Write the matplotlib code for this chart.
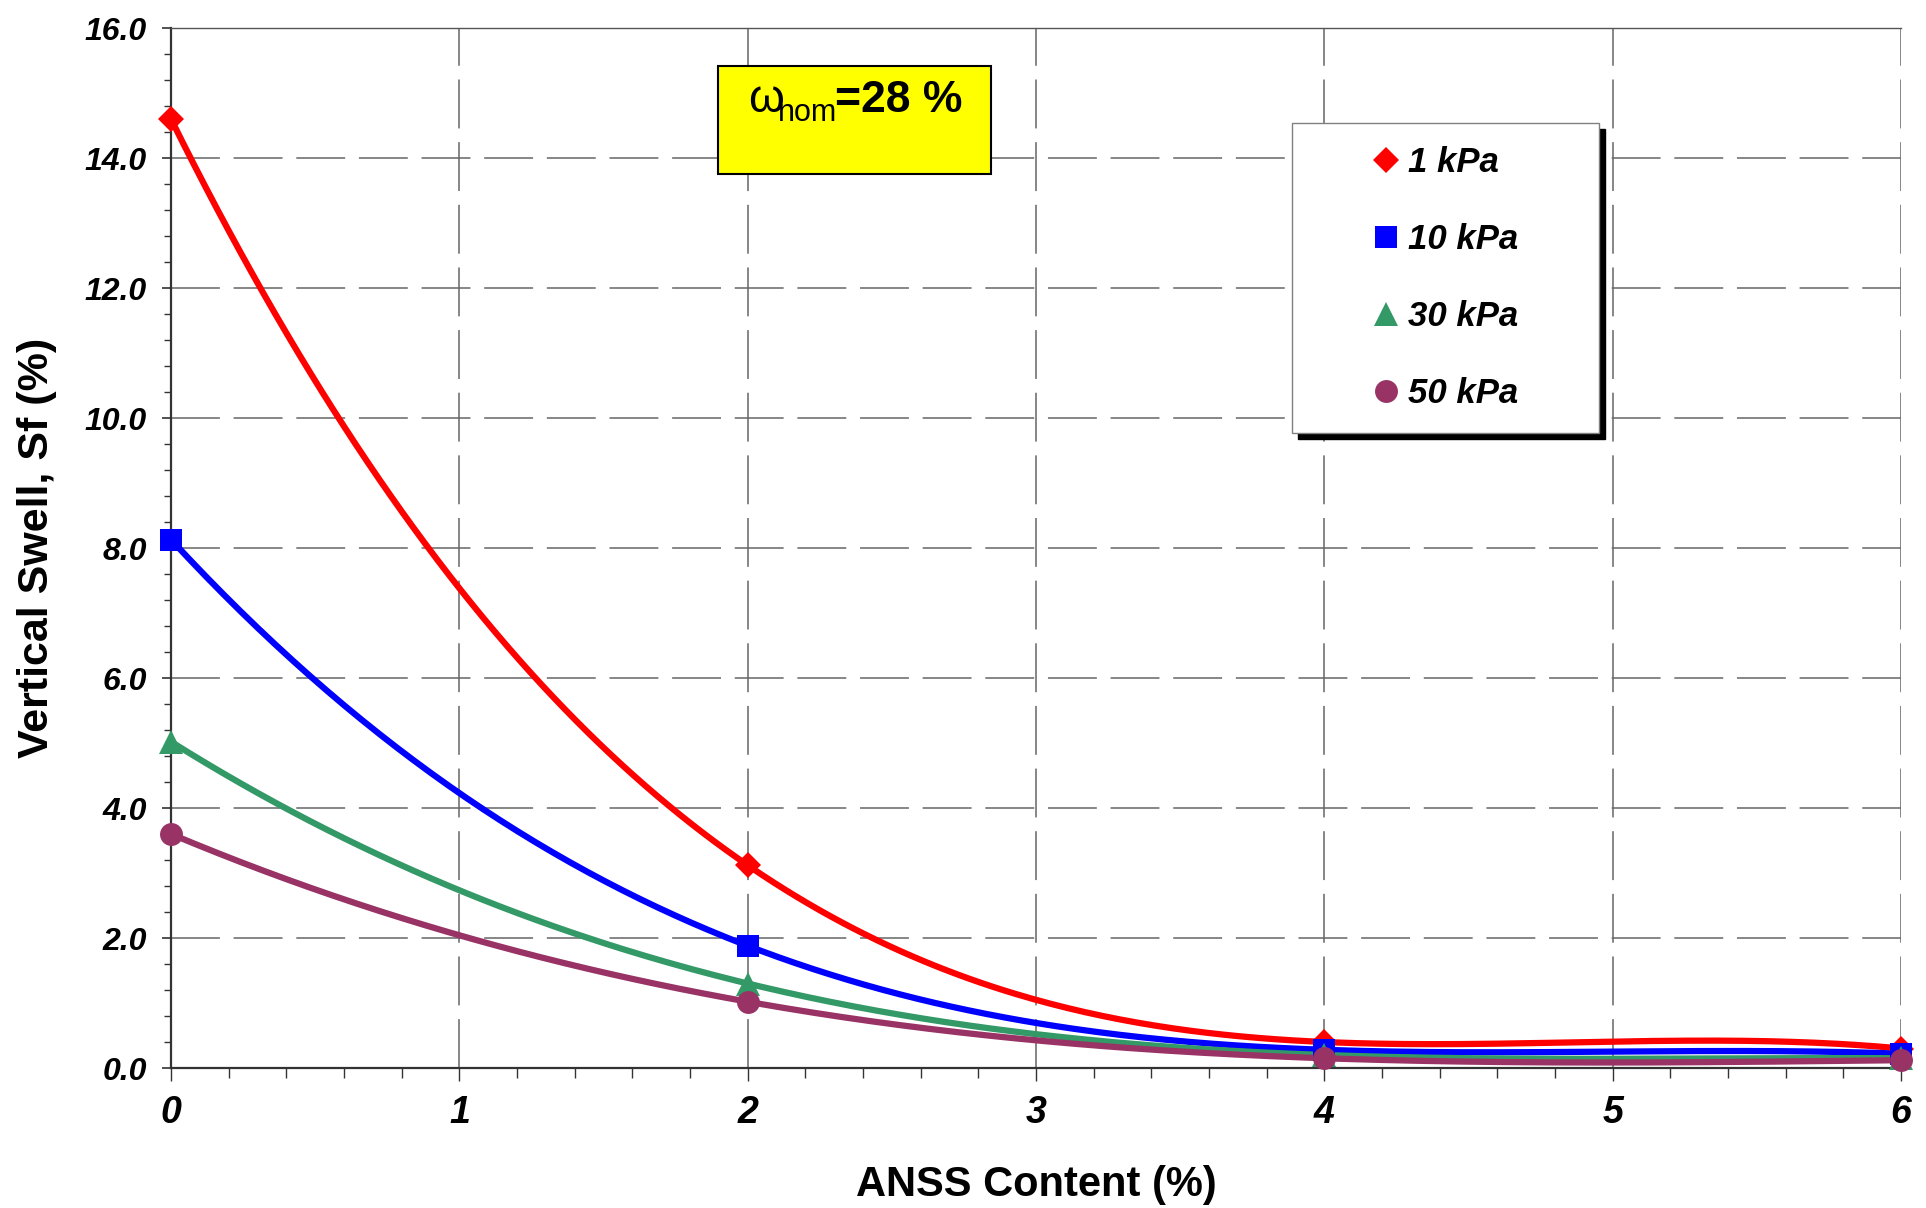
import numpy as np
import matplotlib
matplotlib.use("Agg")
import matplotlib.pyplot as plt
from matplotlib.lines import Line2D
from matplotlib.patches import Rectangle
from matplotlib.ticker import MultipleLocator, FormatStrFormatter

# ANSS content (%) and vertical swell (%) for each surcharge pressure
anss = [0, 2, 4, 6]
swell_1kpa = [14.6, 3.12, 0.40, 0.30]
swell_10kpa = [8.13, 1.88, 0.28, 0.22]
swell_30kpa = [5.02, 1.30, 0.20, 0.15]
swell_50kpa = [3.60, 1.02, 0.15, 0.12]
labels = ["1 kPa", "10 kPa", "30 kPa", "50 kPa"]

colors = ["#FF0000", "#0000FF", "#339966", "#993366"]
markers = ["D", "s", "^", "o"]
msizes = [13, 16, 17, 16.5]

FONT = ["Liberation Sans", "DejaVu Sans"]

fig = plt.figure(figsize=(19.26, 12.08), dpi=100)
ax = fig.add_axes([171 / 1926, 140 / 1208, 1730 / 1926, 1040 / 1208])

series = [swell_1kpa, swell_10kpa, swell_30kpa, swell_50kpa]
xs = np.linspace(0, 6, 300)
for vals, c, m, ms in zip(series, colors, markers, msizes):
    # 3rd order polynomial trendline through the points
    coef = np.polyfit(anss, vals, 3)
    ax.plot(xs, np.polyval(coef, xs), color=c, lw=4.5, zorder=3, clip_on=False,
            solid_capstyle="butt")
    ax.plot(anss, vals, linestyle="none", marker=m, ms=ms, color=c,
            markeredgewidth=0, zorder=4, clip_on=False)

ax.set_xlim(0, 6)
ax.set_ylim(0, 16)
ax.xaxis.set_major_locator(MultipleLocator(1))
ax.xaxis.set_minor_locator(MultipleLocator(0.2))
ax.yaxis.set_major_locator(MultipleLocator(2))
ax.yaxis.set_minor_locator(MultipleLocator(0.4))
ax.yaxis.set_major_formatter(FormatStrFormatter("%.1f"))
ax.xaxis.set_major_formatter(FormatStrFormatter("%d"))

ax.grid(True, which="major", color="#666666", lw=1.1, linestyle=(0, (32, 9)), zorder=1)
ax.set_axisbelow(True)

ax.tick_params(axis="y", which="major", direction="out", length=6.5, width=1.2,
               pad=11, color="#333333")
ax.tick_params(axis="y", which="minor", direction="out", length=5, width=1.0,
               color="#333333")
ax.tick_params(axis="x", which="major", direction="out", length=9.5, width=1.0,
               pad=10, color="#333333")
ax.tick_params(axis="x", which="minor", direction="out", length=7, width=1.0,
               color="#333333")

for lab in ax.get_yticklabels():
    lab.set_family(FONT)
    lab.set_fontsize(23)
    lab.set_fontweight("bold")
    lab.set_fontstyle("italic")
for lab in ax.get_xticklabels():
    lab.set_family(FONT)
    lab.set_fontsize(27)
    lab.set_fontweight("bold")
    lab.set_fontstyle("italic")

for side in ["left", "bottom"]:
    ax.spines[side].set_color("#333333")
    ax.spines[side].set_linewidth(1.6)
ax.spines["top"].set_color("#555555")
ax.spines["top"].set_linewidth(1.0)
ax.spines["right"].set_visible(False)

ax.set_xlabel("ANSS Content (%)", family=FONT, fontsize=30, fontweight="bold")
ax.set_ylabel("Vertical Swell, Sf (%)", family=FONT, fontsize=31, fontweight="bold")
ax.xaxis.set_label_coords(0.5, -0.093)
ax.yaxis.set_label_coords(-0.066, 0.5)

# yellow water content box
ax.add_patch(Rectangle((0.3162, 0.8596), 0.158, 0.104, transform=ax.transAxes,
                       facecolor="#FFFF00", edgecolor="black", lw=1.5, zorder=5))
ax.text(0.3335, 0.919, "\u03c9", transform=ax.transAxes, fontsize=33,
        family=FONT, va="baseline", ha="left", zorder=6)
ax.text(0.3509, 0.911, "nom", transform=ax.transAxes, fontsize=22,
        family=FONT, va="baseline", ha="left", zorder=6)
ax.text(0.3838, 0.919, "=28 %", transform=ax.transAxes, fontsize=32,
        family=FONT, fontweight="bold", va="baseline", ha="left", zorder=6)

handles = [Line2D([], [], linestyle="none", marker=m, ms=ms, color=c, markeredgewidth=0)
           for c, m, ms in zip(colors, markers, msizes)]
leg = ax.legend(handles, labels, loc="upper left",
                bbox_to_anchor=(0.648, 0.6087, 0.1775, 0.3), mode="expand",
                borderaxespad=0, borderpad=0.66, labelspacing=1.27,
                handlelength=4.07, handletextpad=-1.39, fancybox=False,
                framealpha=1, edgecolor="#808080",
                shadow={"color": "black", "alpha": 1, "ox": 4, "oy": -4},
                prop={"family": FONT, "size": 25, "weight": "bold", "style": "italic"})
leg.get_frame().set_linewidth(1.0)
leg.set_zorder(7)

fig.savefig("out.png", dpi=100, facecolor="white")
